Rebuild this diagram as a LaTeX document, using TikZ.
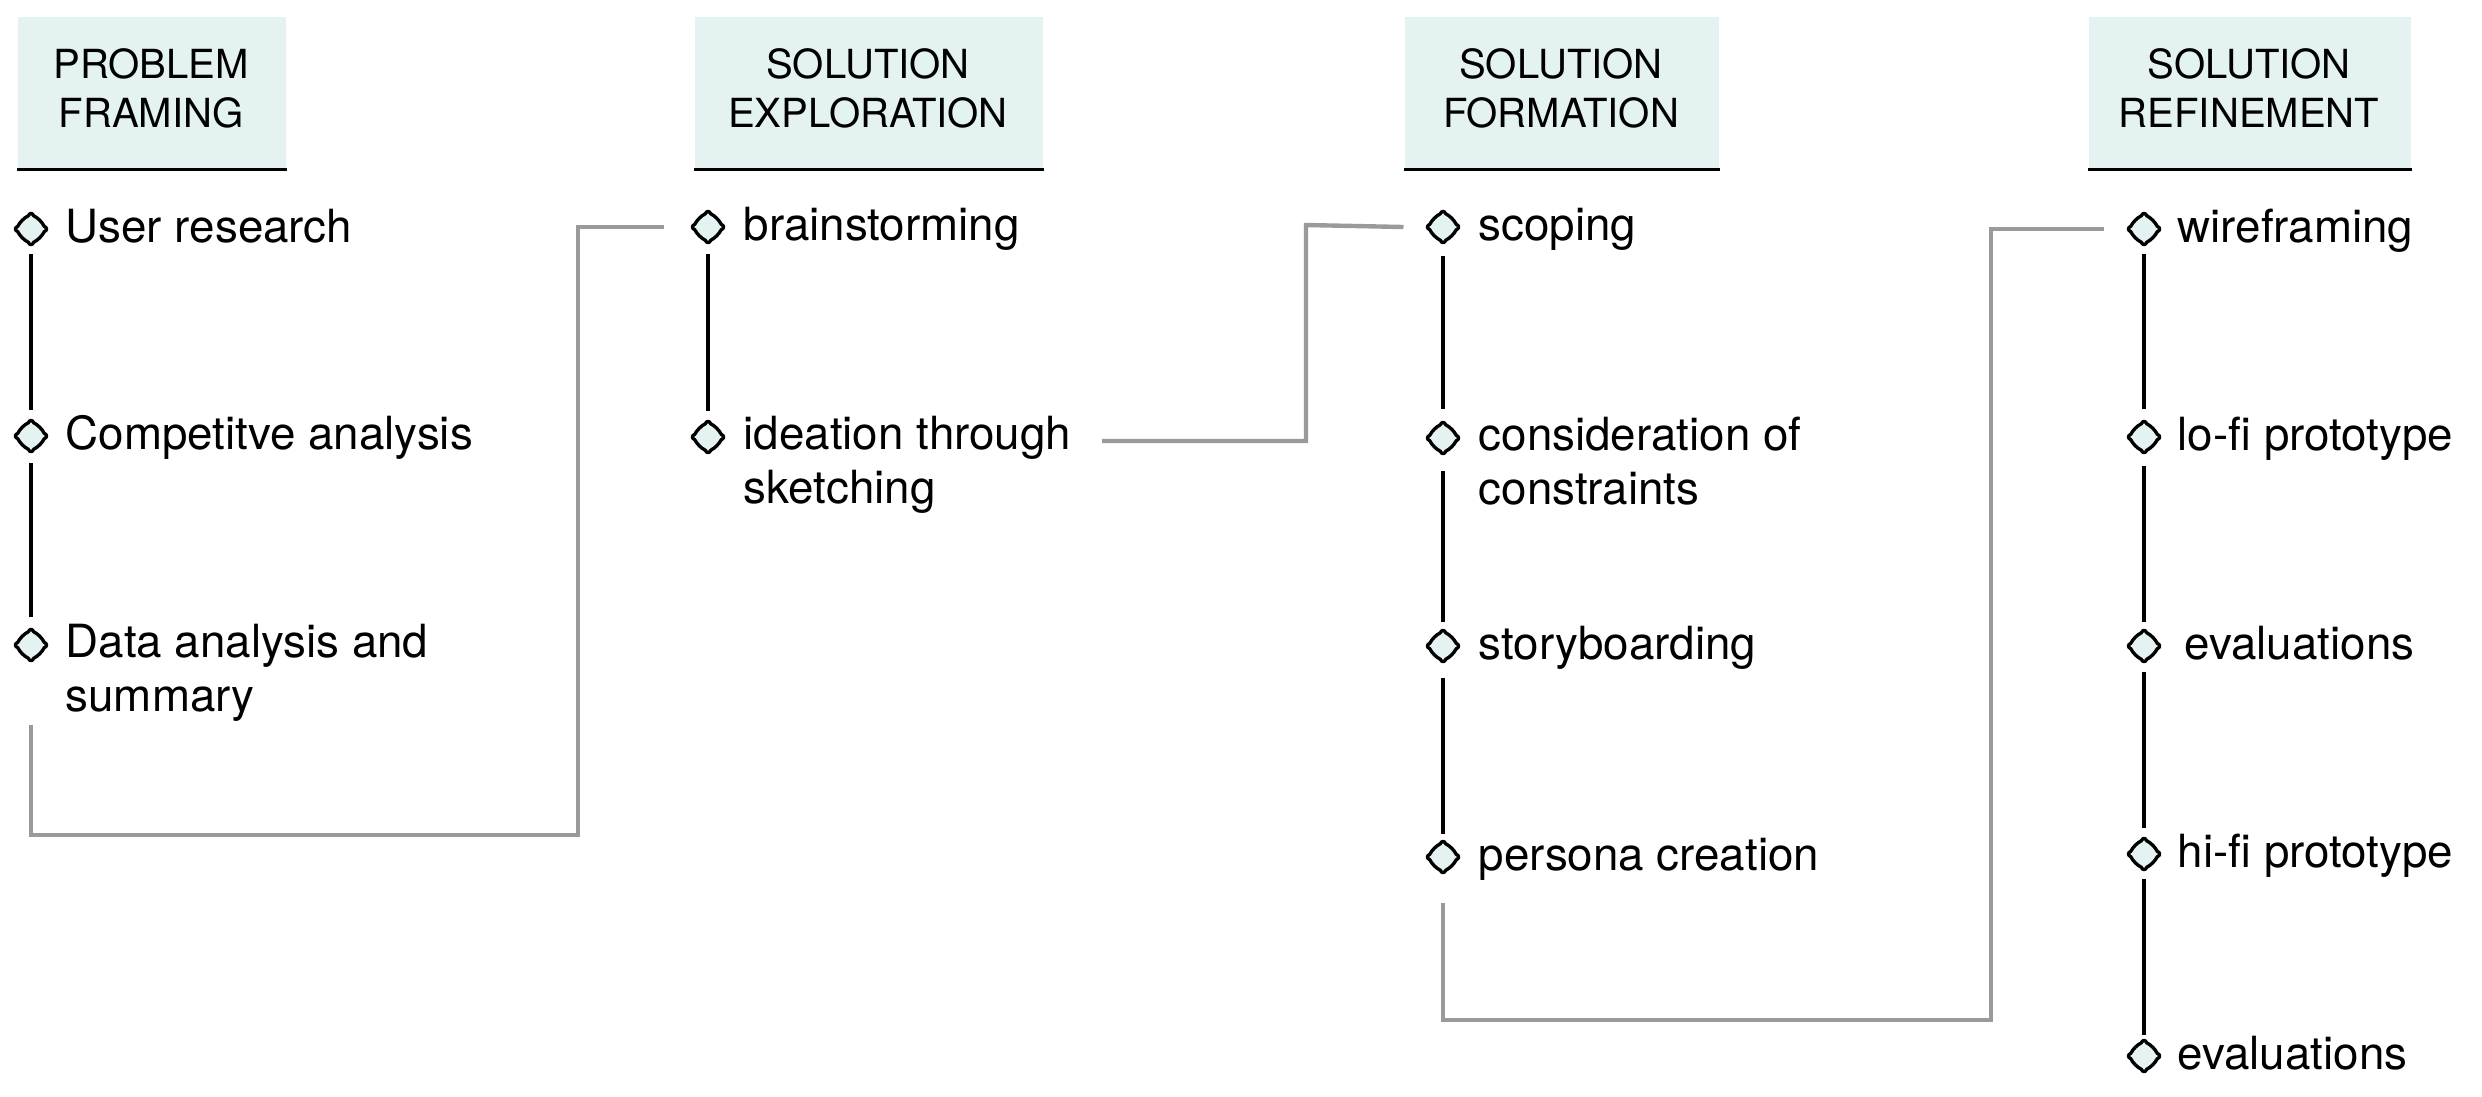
\documentclass[tikz,border=0pt]{standalone}
\usepackage{fontspec}
\setmainfont{TeX Gyre Heros}
\definecolor{hdr}{HTML}{E4F2F2}
\definecolor{gry}{HTML}{9A9A9A}
\begin{document}
\begin{tikzpicture}[x=0.01cm,y=-0.01cm,
  hbox/.style={fill=hdr, draw=none, inner sep=0pt, anchor=north west, minimum height=1.52cm},
  htext/.style={font=\fontsize{11.4pt}{13.95pt}\selectfont, anchor=base, inner sep=0pt},
  dia/.style={rectangle, draw=none, minimum width=0.31cm, minimum height=0.32cm, inner sep=0pt, outer sep=0pt},
  diashape/.style={draw=black, fill=hdr, line width=0.95pt, line join=round},
  itm/.style={font=\fontsize{13pt}{15.1pt}\selectfont, anchor=base west, inner sep=0pt, align=left},
  blk/.style={line width=0.9pt, black},
  gline/.style={line width=1.25pt, gry},
  uline/.style={line width=0.9pt, black}]
\useasboundingbox (0,0) rectangle (2482,1096);

% headers
\node[hbox, minimum width=2.68cm] (h1) at (17,16) {};
\node[hbox, minimum width=3.48cm] (h2) at (694,16) {};
\node[hbox, minimum width=3.14cm] (h3) at (1404,16) {};
\node[hbox, minimum width=3.22cm] (h4) at (2088,16) {};
\foreach \h in {h1,h2,h3,h4} \draw[uline] (\h.south west) -- (\h.south east);
\node[htext] (h1a) at (151,78) {PROBLEM};
\node[htext] (h1b) at (151,127) {FRAMING};
\node[htext] (h2a) at (868,78) {SOLUTION};
\node[htext] (h2b) at (868,127) {EXPLORATION};
\node[htext] (h3a) at (1561,78) {SOLUTION};
\node[htext] (h3b) at (1561,127) {FORMATION};
\node[htext] (h4a) at (2249,78) {SOLUTION};
\node[htext] (h4b) at (2249,127) {REFINEMENT};

% column 1
\node[dia] (p1) at (31,229) {};
\node[dia] (p2) at (31,436) {};
\node[dia] (p3) at (31,645) {};
\node[itm] (p1t) at (65,242) {User research};
\node[itm] (p2t) at (65,449) {Competitve analysis};
\node[itm] (p3t) at (65,711) {Data analysis and\\summary};

% column 2
\node[dia] (e1) at (708,227) {};
\node[dia] (e2) at (708,437) {};
\node[itm] (e1t) at (743,240) {brainstorming};
\node[itm] (e2t) at (743,503) {ideation through\\sketching};

% column 3
\node[dia] (f1) at (1443,227) {};
\node[dia] (f2) at (1443,438) {};
\node[dia] (f3) at (1443,646) {};
\node[dia] (f4) at (1443,857) {};
\node[itm] (f1t) at (1478,240) {scoping};
\node[itm] (f2t) at (1478,504) {consideration of\\constraints};
\node[itm] (f3t) at (1478,659) {storyboarding};
\node[itm] (f4t) at (1478,870) {persona creation};

% column 4
\node[dia] (r1) at (2144,229) {};
\node[dia] (r2) at (2144,437) {};
\node[dia] (r3) at (2144,646) {};
\node[dia] (r4) at (2144,854) {};
\node[dia] (r5) at (2144,1056) {};
\node[itm] (r1t) at (2177,242) {wireframing};
\node[itm] (r2t) at (2177,450) {lo-fi prototype};
\node[itm] (r3t) at (2184,659) {evaluations};
\node[itm] (r4t) at (2177,867) {hi-fi prototype};
\node[itm] (r5t) at (2177,1069) {evaluations};

% diamond markers (rounded tips, slightly bulging sides)
\foreach \n in {p1,p2,p3,e1,e2,f1,f2,f3,f4,r1,r2,r3,r4,r5}
  \draw[diashape, shift={(\n.center)}]
    (-2.8,-13.2) .. controls (-1,-16.5) and (1,-16.5) .. (2.8,-13.2)
    .. controls (7,-11) and (11,-7) .. (13.2,-2.8)
    .. controls (16.5,-1) and (16.5,1) .. (13.2,2.8)
    .. controls (11,7) and (7,11) .. (2.8,13.2)
    .. controls (1,16.5) and (-1,16.5) .. (-2.8,13.2)
    .. controls (-7,11) and (-11,7) .. (-13.2,2.8)
    .. controls (-16.5,1) and (-16.5,-1) .. (-13.2,-2.8)
    .. controls (-11,-7) and (-7,-11) .. (-2.8,-13.2) -- cycle;

% black links within columns
\draw[blk] ([yshift=-0.09cm]p1.south) -- ([yshift=0.10cm]p2.north);
\draw[blk] ([yshift=-0.11cm]p2.south) -- ([yshift=0.12cm]p3.north);
\draw[blk] ([yshift=-0.11cm]e1.south) -- ([yshift=0.10cm]e2.north);
\draw[blk] ([yshift=-0.13cm]f1.south) -- ([yshift=0.13cm]f2.north);
\draw[blk] ([yshift=-0.17cm]f2.south) -- ([yshift=0.08cm]f3.north);
\draw[blk] ([yshift=-0.16cm]f3.south) -- ([yshift=0.07cm]f4.north);
\draw[blk] ([yshift=-0.09cm]r1.south) -- ([yshift=0.12cm]r2.north);
\draw[blk] ([yshift=-0.13cm]r2.south) -- ([yshift=0.08cm]r3.north);
\draw[blk] ([yshift=-0.10cm]r3.south) -- ([yshift=0.10cm]r4.north);
\draw[blk] ([yshift=-0.09cm]r4.south) -- ([yshift=0.05cm]r5.north);

% grey connectors between columns
\coordinate (g1b) at (578,835);
\coordinate (g2a) at (1102,441);
\coordinate (g2b) at (1306,225);
\coordinate (g3b) at (1991,1020);
\draw[gline] ([yshift=-0.64cm]p3.south) |- (g1b) |- ([xshift=-0.28cm]e1.west);
\draw[gline] (g2a) -| (g2b) -- ([xshift=-0.24cm]f1.west);
\draw[gline] ([yshift=-0.30cm]f4.south) |- (g3b) |- ([xshift=-0.25cm]r1.west);
\end{tikzpicture}
\end{document}
